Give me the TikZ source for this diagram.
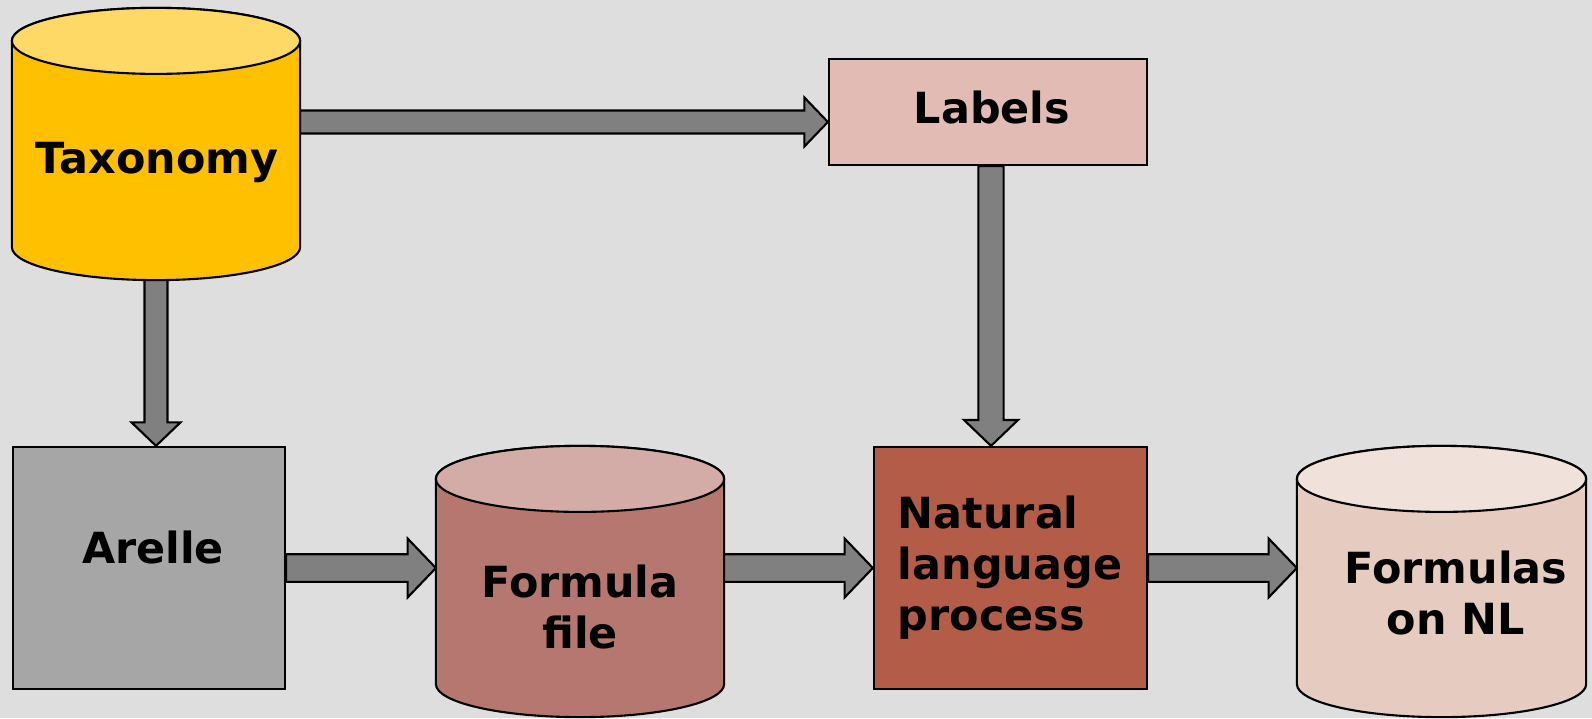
\documentclass[tikz,border=0pt]{standalone}
\usepackage{fontspec}
\setmainfont{DejaVu Sans}
\usetikzlibrary{calc}

\definecolor{bggray}{HTML}{DEDEDE}
\definecolor{arrowgray}{HTML}{808080}
\definecolor{taxbody}{HTML}{FFC000}
\definecolor{taxtop}{HTML}{FFD966}
\definecolor{labelsfill}{HTML}{E2BCB4}
\definecolor{arellefill}{HTML}{A6A6A6}
\definecolor{formulabody}{HTML}{B5776F}
\definecolor{formulatop}{HTML}{D3ACA8}
\definecolor{nlpfill}{HTML}{B35C48}
\definecolor{nlbody}{HTML}{E6CBC0}
\definecolor{nltop}{HTML}{F0E1DA}

\pgfdeclarelayer{bg}
\pgfdeclarelayer{tanks}
\pgfsetlayers{bg,tanks,main}

\newcommand\boxfont{\fontsize{12.2}{14.5}\selectfont\bfseries}
\newcommand\dbry{0.33cm}

% cylinder drawn round a named node
\newcommand\dbcylinder[3]{%
  \begin{pgfonlayer}{tanks}
    \filldraw[fill=#2] let \p1=(#1.north west), \p2=(#1.south east), \n1={(\x2-\x1)/2} in
      (\x1,{\y1-\dbry}) -- (\x1,{\y2+\dbry})
      arc[start angle=180, end angle=360, x radius=\n1, y radius=\dbry]
      -- (\x2,{\y1-\dbry})
      arc[start angle=0, end angle=180, x radius=\n1, y radius=\dbry] -- cycle;
    \filldraw[fill=#3] let \p1=(#1.north west), \p2=(#1.south east), \n1={(\x2-\x1)/2} in
      ($(#1.north)-(0,\dbry)$) ellipse[x radius=\n1, y radius=\dbry];
  \end{pgfonlayer}}

% block arrow from #2 to #3
\newcommand\flowarrow[3][1]{%
  \coordinate (fa-s) at (#2);
  \coordinate (fa-t) at (#3);
  \pgfmathsetlengthmacro\fashaft{0.115cm*#1}%
  \pgfmathsetlengthmacro\fahead{0.245cm*#1}%
  \pgfmathsetlengthmacro\falen{0.235cm*#1}%
  \coordinate (fa-b) at ($(fa-t)!\falen!(fa-s)$);
  \filldraw[flow] ($(fa-s)!\fashaft!90:(fa-t)$) -- ($(fa-b)!\fashaft!-90:(fa-s)$)
    -- ($(fa-b)!\fahead!-90:(fa-s)$) -- (fa-t) -- ($(fa-b)!\fahead!90:(fa-s)$)
    -- ($(fa-b)!\fashaft!90:(fa-s)$) -- ($(fa-s)!\fashaft!-90:(fa-t)$) -- cycle;}

\tikzset{
  box/.style={draw=black, line width=0.6pt, inner sep=0pt},
  tank/.style={inner sep=0pt, minimum width=2.86cm},
  flow/.style={fill=arrowgray, draw=black, line width=0.6pt},
  every path/.append style={line width=0.6pt}
}

\begin{document}
\begin{tikzpicture}[x=0.01cm, y=0.01cm, font=\boxfont]
\useasboundingbox (0,0) rectangle (1592,718);
\begin{pgfonlayer}{bg}
\fill[bggray] (0,0) rectangle (1592,718);
\end{pgfonlayer}

\node[tank, minimum height=2.70cm, label={[xshift=0.01cm, yshift=-0.18cm]center:Taxonomy}] (taxonomy) at (156,574) {};
\node[box, fill=labelsfill, minimum width=3.18cm, minimum height=1.06cm, label={[xshift=0.04cm, yshift=0.04cm]center:Labels}] (labels) at (988,606) {};
\node[box, fill=arellefill, minimum width=2.72cm, minimum height=2.42cm, label={[xshift=0.04cm, yshift=0.20cm]center:Arelle}] (arelle) at (149,150) {};
\node[tank, minimum height=2.69cm, label={[align=center, yshift=-0.25cm]center:Formula\\file}] (formula) at (580,136.5) {};
\node[box, fill=nlpfill, minimum height=2.42cm, text width=2.25cm, inner xsep=0.24cm, align=left] (nlp) at (1010.5,150) {Natural\\language\\process};
\node[tank, minimum width=2.87cm, minimum height=2.69cm, label={[align=center, xshift=0.145cm, yshift=-0.115cm]center:Formulas\\on NL}] (formulas) at (1441.5,136.5) {};

\dbcylinder{taxonomy}{taxbody}{taxtop}
\dbcylinder{formula}{formulabody}{formulatop}
\dbcylinder{formulas}{nlbody}{nltop}

\coordinate (labels-in) at ($(labels.west)+(0,-10)$);
\coordinate (labels-out) at ($(labels.south)+(3,0)$);
\flowarrow{taxonomy.east |- labels-in}{labels-in}
\flowarrow{taxonomy.south}{taxonomy.south |- arelle.north}
\flowarrow[1.1]{labels-out}{labels-out |- nlp.north}
\flowarrow[1.2]{arelle.east}{arelle.east -| formula.west}
\flowarrow[1.2]{nlp.west -| formula.east}{nlp.west}
\flowarrow[1.2]{nlp.east}{nlp.east -| formulas.west}
\end{tikzpicture}
\end{document}
